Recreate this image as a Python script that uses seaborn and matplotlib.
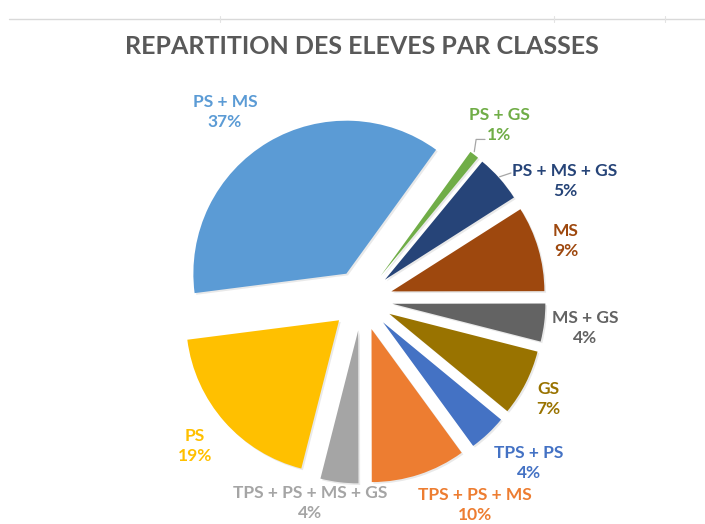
import numpy as np
import matplotlib
matplotlib.use("Agg")
import matplotlib.pyplot as plt
import matplotlib.patheffects as pe
import seaborn as sns

# data (clockwise from the top)
classes = ["PS + GS", "PS + MS + GS", "MS", "MS + GS", "GS", "TPS + PS",
           "TPS + PS + MS", "TPS + PS + MS + GS", "PS", "PS + MS"]
shares = [1, 5, 9, 4, 7, 4, 10, 4, 19, 37]
colors = ["#70AD47", "#264478", "#9E480E", "#636363", "#997300", "#4472C4",
          "#ED7D31", "#A5A5A5", "#FFC000", "#5B9BD5"]

# where each label sits, in pixels from the pie centre
label_px = [(137, 175), (203, 119), (204, 59), (223, -28), (186, -99),
            (167, -163), (113, -205), (-52, -203), (-167, -146), (-137, 188)]

R = 153           # pie radius in pixels
CX, CY = 362, 300  # pie centre in pixels
sns.set_theme(style="white")
plt.rcParams["font.family"] = ["Lato", "DejaVu Sans"]

fig = plt.figure(figsize=(7.05, 5.24), dpi=100)
ax = fig.add_axes([0, 0, 1, 1])

pal = sns.color_palette(colors)
wedges, _ = ax.pie(shares, colors=pal, startangle=54.1, counterclock=False,
                   explode=[0.2] * len(shares), radius=1,
                   wedgeprops=dict(linewidth=0))
for w in wedges:
    w.set_path_effects([pe.SimplePatchShadow(offset=(1.2, -1.2), shadow_rgbFace="#888888",
                                             alpha=0.18), pe.Normal()])

for w, name, val, (lx, ly), c in zip(wedges, classes, shares, label_px, pal):
    ax.text(lx / R, ly / R, f"{name}\n{val}%", color=c, ha="center", va="center",
            fontsize=12.5, fontweight="bold", linespacing=1.35)

# small leader lines for the two thin slices at the top
for i in (0, 1):
    w = wedges[i]
    mid = np.deg2rad((w.theta1 + w.theta2) / 2)
    x0, y0 = 1.2 * np.cos(mid), 1.2 * np.sin(mid)
    if i == 0:
        xs, ys = [x0, x0 + 0.012, x0 + 0.07], [y0 + 0.02, y0 + 0.10, y0 + 0.10]
    else:
        xs, ys = [x0, x0 + 0.075], [y0 + 0.01, y0 + 0.035]
    ax.plot(xs, ys, color="#A6A6A6", lw=0.9)

ax.set_xlim(-CX / R, (705 - CX) / R)
ax.set_ylim(-(524 - CY) / R, CY / R)
ax.set_aspect("auto")
ax.axis("off")

fig.text(0.513, 0.911, "REPARTITION DES ELEVES PAR CLASSES", ha="center",
         va="center", fontsize=18, fontweight="bold", color="#595959")

# faint border line at the top of the sheet
fig.add_artist(plt.Line2D([9 / 705, 1], [1 - 19 / 524] * 2, color="#D9D9D9", lw=1))
for xt in (220, 554, 665):
    fig.add_artist(plt.Line2D([xt / 705] * 2, [1 - 16 / 524, 1 - 22 / 524],
                              color="#E3E3E3", lw=0.8))

fig.savefig("out.png", dpi=100)
